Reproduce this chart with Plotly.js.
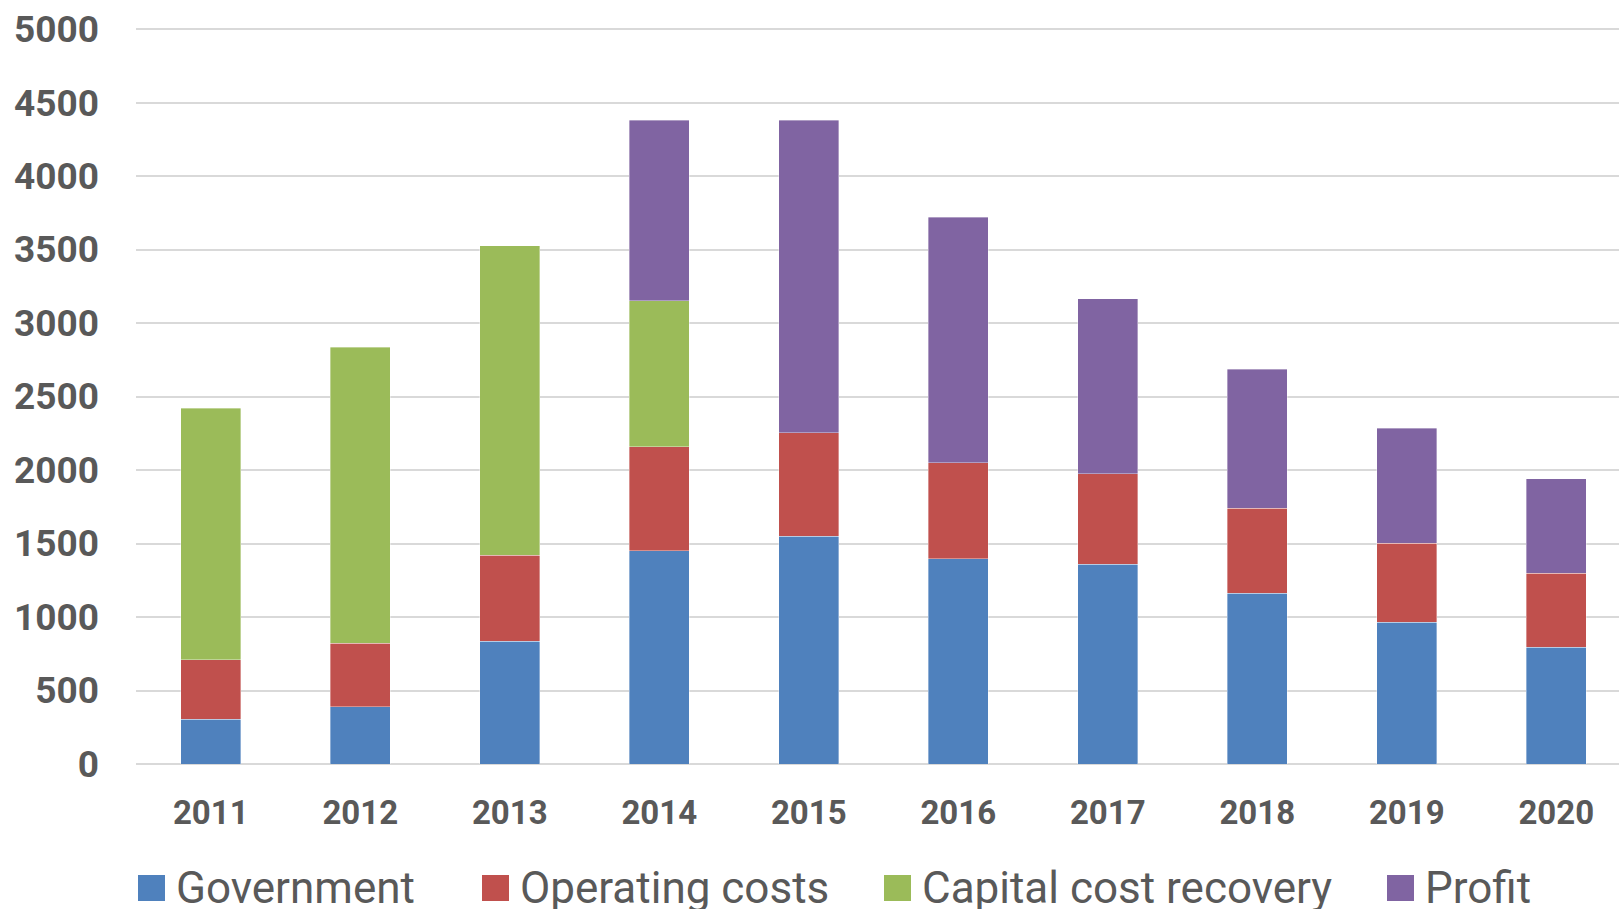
<!DOCTYPE html>
<html><head><meta charset="utf-8">
<script src="https://cdn.plot.ly/plotly-3.0.1.min.js"></script>
<style>html,body{margin:0;padding:0;background:#fff;overflow:hidden}</style>
</head><body><div id="chart" style="width:1619px;height:909px"></div>
<script>
// ---- data ----
const years = ['2011','2012','2013','2014','2015','2016','2017','2018','2019','2020'];
const government = [305, 390, 835, 1450, 1550, 1395, 1360, 1160, 965, 795];
const operatingCosts = [405, 430, 585, 710, 705, 655, 615, 580, 537, 503];
const capitalCostRecovery = [1710, 2015, 2105, 990, null, null, null, null, null, null];
const profit = [null, null, null, 1230, 2125, 1670, 1190, 945, 782, 643];
const seriesNames = ['Government', 'Operating costs', 'Capital cost recovery', 'Profit'];
const yTickValues = [0, 500, 1000, 1500, 2000, 2500, 3000, 3500, 4000, 4500, 5000];

// ---- style ----
const colors = ['#4f81bd', '#c0504d', '#9bbb59', '#8064a2'];
const seriesValues = [government, operatingCosts, capitalCostRecovery, profit];
const W = 1619, H = 909;
const M = {l: 136, r: 0, t: 27, b: 145};
const plotW = W - M.l - M.r, plotH = H - M.t - M.b;
const px2x = p => (p - M.l) / plotW;
const px2y = p => (H - M.b - p) / plotH;

const traces = seriesNames.map((name, i) => ({
  type: 'bar',
  name: name,
  x: years,
  y: seriesValues[i],
  marker: {color: colors[i], line: {width: 0.8, color: 'rgba(255,255,255,0.45)'}},
  hoverinfo: 'x+y+name'
}));

// custom legend (large swatches like the original)
const legendBoxX = [138, 482, 884, 1387];
const boxTop = 875, boxSize = 26;
const shapes = [], annotations = [];
seriesNames.forEach((name, i) => {
  shapes.push({
    type: 'rect', xref: 'paper', yref: 'paper',
    x0: px2x(legendBoxX[i]), x1: px2x(legendBoxX[i] + 27),
    y0: px2y(boxTop + boxSize), y1: px2y(boxTop),
    fillcolor: colors[i], line: {width: 0}
  });
  annotations.push({
    xref: 'paper', yref: 'paper',
    x: px2x(legendBoxX[i] + 36), y: px2y(888),
    xanchor: 'left', yanchor: 'middle',
    text: name, showarrow: false,
    font: {family: 'Roboto, sans-serif', size: 44, color: '#595959'}
  });
});

const layout = {
  width: W, height: H,
  margin: M,
  paper_bgcolor: '#ffffff', plot_bgcolor: '#ffffff',
  barmode: 'stack',
  bargap: 0.6,
  showlegend: false,
  xaxis: {
    type: 'category',
    range: [-0.5, -0.5 + plotW / 149.5],
    showgrid: false, zeroline: false, showline: false,
    ticks: '',
    tickfont: {family: 'Roboto, sans-serif', size: 33, color: '#595959', weight: 'bold'},
    ticklabelstandoff: 26,
    fixedrange: true
  },
  yaxis: {
    range: [0, 5014],
    tickvals: yTickValues,
    ticktext: yTickValues.map(String),
    showgrid: true, gridcolor: '#d9d9d9', gridwidth: 2,
    zeroline: true, zerolinecolor: '#d9d9d9', zerolinewidth: 2,
    showline: false, ticks: '',
    tickfont: {family: 'Roboto, sans-serif', size: 37, color: '#595959', weight: 'bold'},
    ticklabelstandoff: 36,
    fixedrange: true
  },
  shapes: shapes,
  annotations: annotations
};

Plotly.newPlot('chart', traces, layout, {displayModeBar: false, staticPlot: true});
</script>
</body></html>
